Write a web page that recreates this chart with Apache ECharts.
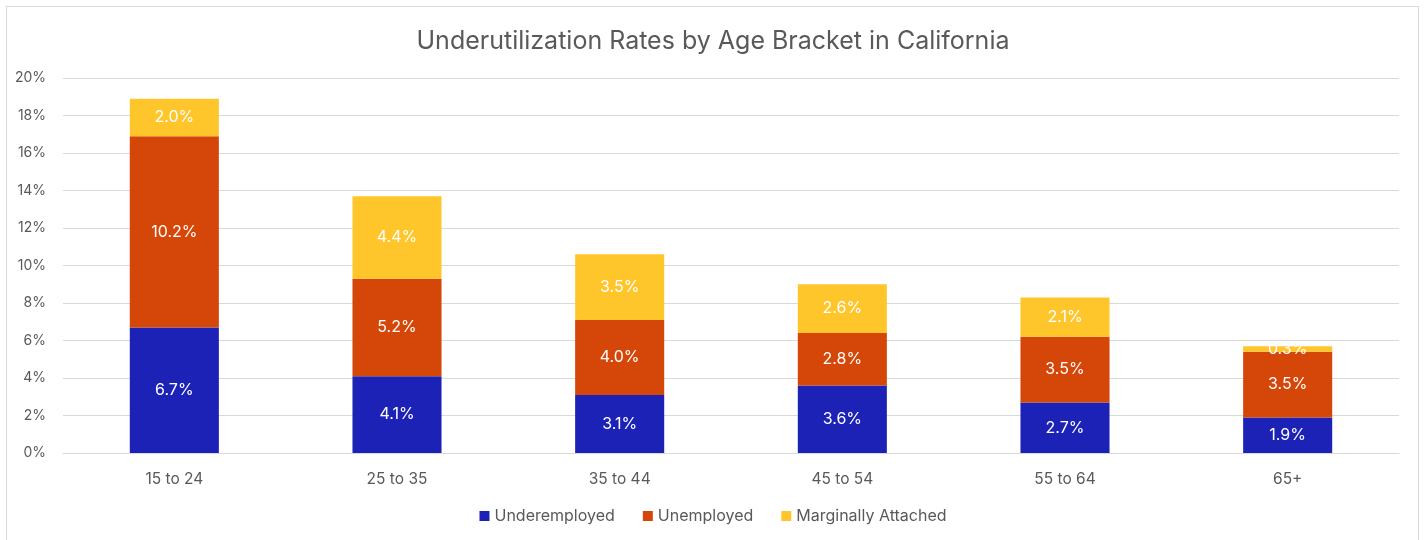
<!DOCTYPE html>
<html>
<head>
<meta charset="utf-8">
<script src="https://cdn.jsdelivr.net/npm/echarts@6/dist/echarts.min.js"></script>
<style>
  html, body { margin: 0; padding: 0; background: #fff; }
  #frame { position: absolute; left: 6px; top: 6px; width: 1413px; height: 600px; border: 1px solid #d9d9d9; box-sizing: border-box; }
  #chart { position: absolute; left: 0; top: 0; width: 1426px; height: 540px; }
</style>
</head>
<body>
<div id="frame"></div>
<div id="chart"></div>
<script>
const categories = ["15 to 24", "25 to 35", "35 to 44", "45 to 54", "55 to 64", "65+"];
const underemployed = [6.7, 4.1, 3.1, 3.6, 2.7, 1.9];
const unemployed = [10.2, 5.2, 4.0, 2.8, 3.5, 3.5];
const marginallyAttached = [2.0, 4.4, 3.5, 2.6, 2.1, 0.3];

const font = "Inter, 'Noto Sans', sans-serif";

const makeSeries = (name, data, color) => ({
  name: name,
  type: "bar",
  stack: "total",
  barWidth: "40%",
  data: data,
  itemStyle: { color: color },
  label: {
    show: true,
    position: "inside",
    color: "#fff",
    fontSize: 16,
    fontFamily: font,
    formatter: (p) => p.value.toFixed(1) + "%",
  },
});

const option = {
  animation: false,
  textStyle: { fontFamily: font },
  title: {
    text: "Underutilization Rates by Age Bracket in California",
    left: "center",
    top: 24,
    textStyle: { color: "#595959", fontSize: 25, fontWeight: "normal", fontFamily: font },
  },
  legend: {
    bottom: 11,
    itemWidth: 10,
    itemHeight: 10,
    itemGap: 28,
    icon: "rect",
    textStyle: { color: "#595959", fontSize: 16, fontFamily: font },
  },
  grid: { left: 63, right: 27, top: 78, bottom: 87 },
  xAxis: {
    type: "category",
    data: categories,
    axisLine: { lineStyle: { color: "#d9d9d9", width: 1 } },
    axisTick: { show: false },
    axisLabel: { color: "#595959", fontSize: 15.5, margin: 18, fontFamily: font },
  },
  yAxis: {
    type: "value",
    min: 0,
    max: 20,
    interval: 2,
    axisLine: { show: false },
    axisTick: { show: false },
    axisLabel: { color: "#595959", fontSize: 14, margin: 17, formatter: "{value}%", fontFamily: font },
    splitLine: { lineStyle: { color: "#d9d9d9", width: 1 } },
  },
  series: [
    makeSeries("Underemployed", underemployed, "#1c22b5"),
    makeSeries("Unemployed", unemployed, "#d54609"),
    makeSeries("Marginally Attached", marginallyAttached, "#ffc62b"),
  ],
};

let myChart = echarts.init(document.getElementById("chart"));
myChart.setOption(option);
</script>
</body>
</html>
